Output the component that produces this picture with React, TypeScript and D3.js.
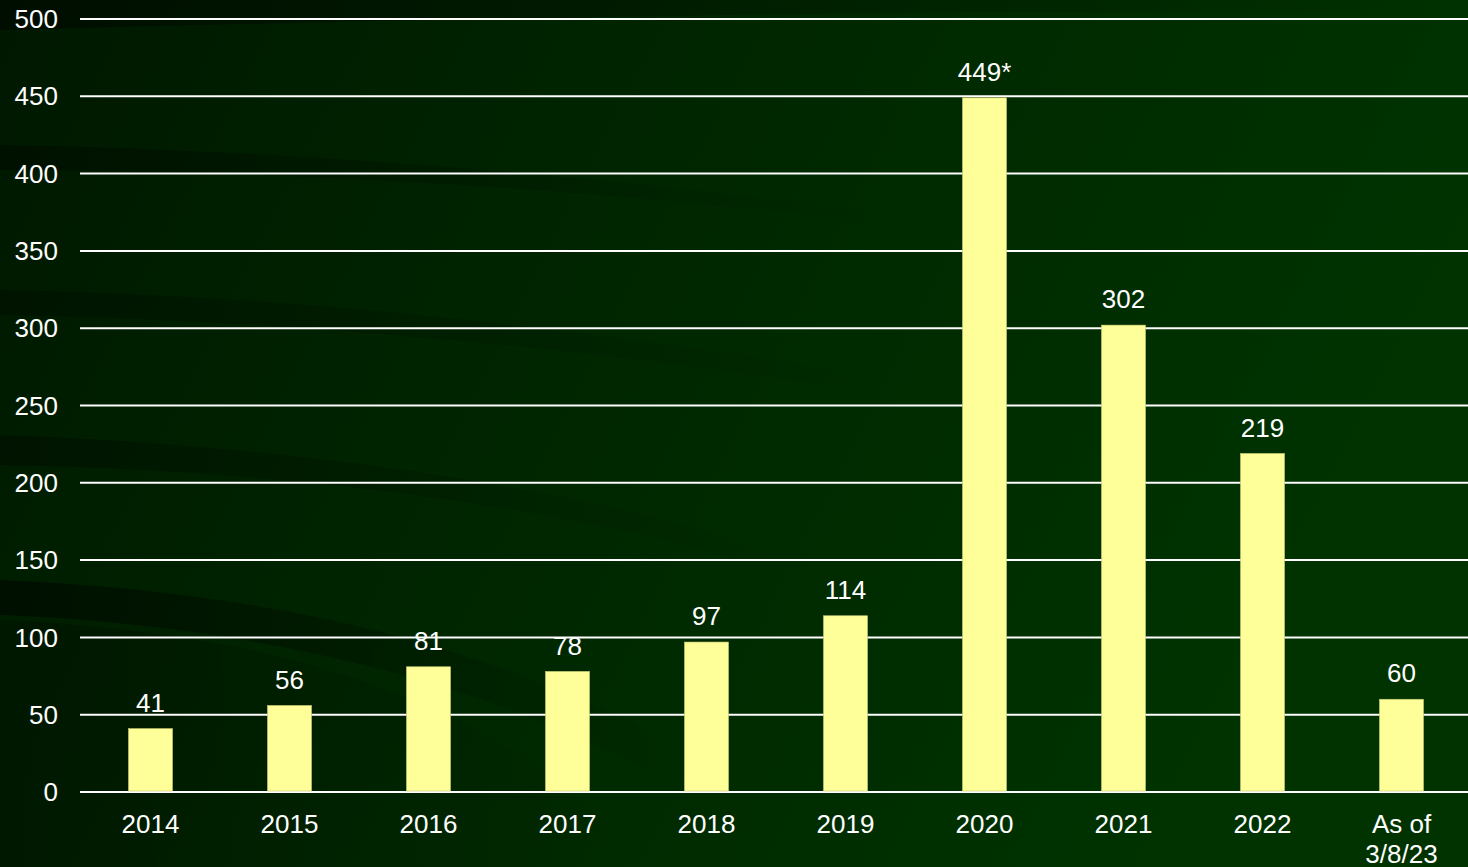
import React from "react";
import * as d3 from "d3";

const categories = ["2014", "2015", "2016", "2017", "2018", "2019", "2020", "2021", "2022", "As of\n3/8/23"];
const values = [41, 56, 81, 78, 97, 114, 449, 302, 219, 60];
const valueLabels = ["41", "56", "81", "78", "97", "114", "449*", "302", "219", "60"];
const yTicks = [0, 50, 100, 150, 200, 250, 300, 350, 400, 450, 500];

const W = 1468, H = 867;
const left = 81, right = 1471, top = 19, bottom = 792;

export default function App() {
  const x = d3.scaleBand<string>().domain(categories).range([left, right]).paddingInner(0.683).paddingOuter(0.3415);
  const y = d3.scaleLinear().domain([0, 500]).range([bottom, top]);
  const font = "'Liberation Sans', Arial, sans-serif";
  const fs = 26;
  return (
    <svg width={W} height={H} style={{ position: "fixed", left: 0, top: 0 }} fontFamily={font}>
      <defs>
        <linearGradient id="bg" x1="0" y1="0" x2="1" y2="0.3">
          <stop offset="0" stopColor="#001800" />
          <stop offset="0.5" stopColor="#002700" />
          <stop offset="1" stopColor="#003300" />
        </linearGradient>
        <linearGradient id="streak" x1="0" y1="0" x2="1" y2="0">
          <stop offset="0" stopColor="#000" stopOpacity="0.7" />
          <stop offset="1" stopColor="#000" stopOpacity="0" />
        </linearGradient>
      </defs>
      <rect x={0} y={0} width={W} height={H} fill="url(#bg)" />
      <path d="M0,0 L1468,0 L1468,12 C900,8 400,20 0,30 Z" fill="url(#streak)" opacity={0.6} />
      <path d="M0,145 C300,150 600,175 900,215 L900,225 C600,190 300,170 0,170 Z" fill="url(#streak)" opacity={0.5} />
      <path d="M0,290 C300,295 600,330 900,380 L900,395 C600,350 300,320 0,315 Z" fill="url(#streak)" opacity={0.4} />
      <path d="M0,435 C300,445 600,490 800,560 L800,580 C600,510 300,470 0,465 Z" fill="url(#streak)" opacity={0.45} />
      <path d="M0,580 C250,590 500,640 700,760 L700,800 C500,680 250,625 0,615 Z" fill="url(#streak)" opacity={0.7} />
      <path d="M0,620 C250,630 500,690 650,867 L0,867 Z" fill="url(#streak)" opacity={0.35} />
      {yTicks.map((t) => (
        <g key={t}>
          <line x1={80} x2={1468} y1={y(t)} y2={y(t)} stroke="#ffffff" strokeWidth={2} />
          <text x={58} y={y(t)} dy="0.35em" textAnchor="end" fill="#ffffff" fontSize={fs}>{t}</text>
        </g>
      ))}
      {categories.map((c, i) => {
        const bx = x(c)!;
        const bw = x.bandwidth();
        const cx = bx + bw / 2;
        const lines = c.split("\n");
        return (
          <g key={c}>
            <rect x={bx} y={y(values[i])} width={bw} height={y(0) - y(values[i]) - 1} fill="#FFFF99" stroke="#c8c870" strokeWidth={0.6} />
            <text x={cx} y={y(values[i]) - 26} dy="0.35em" textAnchor="middle" fill="#ffffff" fontSize={fs}>{valueLabels[i]}</text>
            {lines.map((l, j) => (
              <text key={j} x={cx} y={824 + j * 30} dy="0.35em" textAnchor="middle" fill="#ffffff" fontSize={fs}>{l}</text>
            ))}
          </g>
        );
      })}
    </svg>
  );
}
